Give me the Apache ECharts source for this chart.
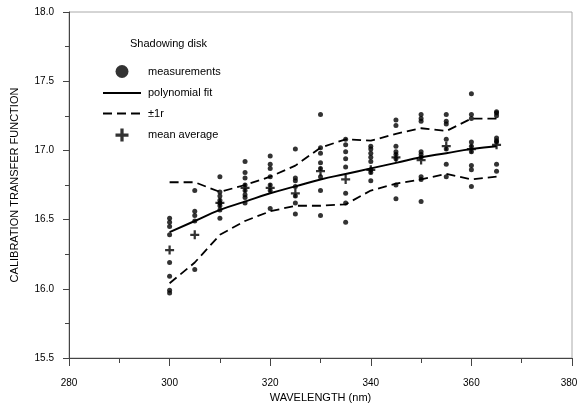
<!DOCTYPE html>
<html>
<head>
<meta charset="utf-8">
<script src="https://cdn.jsdelivr.net/npm/echarts@6/dist/echarts.min.js"></script>
<style>
  html, body { margin: 0; padding: 0; background: #fff; }
  #chart { width: 579px; height: 403px; }
</style>
</head>
<body>
<div id="chart"></div>
<script>
// Wavelengths (nm) at which the shadowing-disk calibration was measured
const wavelengths = [300, 305, 310, 315, 320, 325, 330, 335, 340, 345, 350, 355, 360, 365];

// Individual measurements, one list per wavelength
const measured = [
  [16.51, 16.48, 16.45, 16.39, 16.19, 16.09, 15.99, 15.97],
  [16.71, 16.56, 16.53, 16.49, 16.14],
  [16.81, 16.70, 16.67, 16.64, 16.62, 16.60, 16.57, 16.51],
  [16.92, 16.84, 16.80, 16.75, 16.71, 16.68, 16.66, 16.62],
  [16.96, 16.90, 16.87, 16.81, 16.75, 16.71, 16.58],
  [17.01, 16.80, 16.78, 16.74, 16.67, 16.62, 16.54],
  [17.26, 17.02, 16.98, 16.91, 16.87, 16.81, 16.71, 16.53],
  [17.08, 17.04, 16.99, 16.94, 16.88, 16.69, 16.62, 16.48],
  [17.03, 17.01, 16.98, 16.95, 16.92, 16.86, 16.84, 16.78],
  [17.22, 17.18, 17.03, 16.99, 16.97, 16.94, 16.75, 16.65],
  [17.26, 17.23, 17.21, 16.99, 16.97, 16.95, 16.81, 16.79, 16.63],
  [17.26, 17.21, 17.19, 17.08, 17.01, 16.90, 16.81],
  [17.41, 17.26, 17.23, 17.06, 17.03, 16.99, 16.89, 16.86, 16.74],
  [17.28, 17.27, 17.25, 17.09, 17.07, 17.06, 16.90, 16.85]
];

// Polynomial fit evaluated at each wavelength
const polyFit = [16.41, 16.49, 16.57, 16.63, 16.69, 16.74, 16.79, 16.83, 16.87, 16.91, 16.95, 16.98, 17.01, 17.03];

// Upper and lower one-sigma envelopes
const upperBand = [16.77, 16.77, 16.70, 16.75, 16.81, 16.89, 17.02, 17.08, 17.07, 17.12, 17.16, 17.14, 17.23, 17.23];
const lowerBand = [16.04, 16.19, 16.39, 16.49, 16.56, 16.60, 16.60, 16.61, 16.71, 16.76, 16.79, 16.83, 16.79, 16.81];

// Mean of the measurements at each wavelength
const meanValues = [16.28, 16.39, 16.62, 16.73, 16.73, 16.69, 16.85, 16.79, 16.86, 16.95, 16.93, 17.03, 17.01, 17.04];

// Axis tick labels
const xTicks = [280, 300, 320, 340, 360, 380];
const yTicks = [15.5, 16.0, 16.5, 17.0, 17.5, 18.0];

const pair = (vals) => wavelengths.map((w, i) => [w, vals[i]]);
const measuredPoints = [];
wavelengths.forEach((w, i) => measured[i].forEach(v => measuredPoints.push([w, v])));

const plusPath = 'path://M3,0h2v3h3v2h-3v3h-2v-3h-3v-2h3z';
const FONT = 'Liberation Sans, Arial, sans-serif';
const INK = '#000';
const DASH = [9, 5];
const xMax = xTicks[xTicks.length - 1];

const chart = echarts.init(document.getElementById('chart'), null, { renderer: 'canvas' });
chart.setOption({
  animation: false,
  backgroundColor: '#fff',
  textStyle: { fontFamily: FONT, color: INK },
  grid: {
    left: 69, right: 7, top: 12, bottom: 45,
    outerBoundsMode: 'none',
    containLabel: false,
    show: true, borderColor: '#aaa', borderWidth: 1
  },
  title: {
    text: 'Shadowing disk',
    left: 125, top: 33,
    textStyle: { fontFamily: FONT, fontSize: 11, fontWeight: 'normal', color: INK }
  },
  legend: {
    orient: 'vertical',
    left: 97, top: 60,
    itemWidth: 38, itemHeight: 13, itemGap: 9.5,
    textStyle: { fontFamily: FONT, fontSize: 11, color: INK, padding: [0, 0, 0, 2] },
    data: [
      { name: 'measurements', icon: 'circle' },
      { name: 'polynomial fit', itemStyle: { opacity: 0 } },
      { name: '±1r', itemStyle: { opacity: 0 } },
      { name: 'mean average', icon: plusPath }
    ]
  },
  xAxis: {
    type: 'value',
    min: xTicks[0], max: xMax, interval: 20,
    name: 'WAVELENGTH (nm)',
    nameLocation: 'middle', nameGap: 31,
    nameTextStyle: { fontFamily: FONT, fontSize: 11, color: INK },
    axisLine: { show: true, onZero: false, lineStyle: { color: '#444', width: 1 } },
    axisTick: { show: true, length: 8, lineStyle: { color: '#444' } },
    minorTick: { show: true, splitNumber: 2, length: 5, lineStyle: { color: '#444' } },
    splitLine: { show: false },
    axisLabel: {
      fontFamily: FONT, fontSize: 10, color: INK, margin: 20,
      formatter: v => (v === xMax ? '{edge|' + v + '}' : String(v)),
      rich: { edge: { fontFamily: FONT, fontSize: 10, color: INK, padding: [0, 6, 0, 0] } }
    }
  },
  yAxis: {
    type: 'value',
    min: yTicks[0], max: yTicks[yTicks.length - 1], interval: 0.5,
    name: 'CALIBRATION TRANSFER FUNCTION',
    nameLocation: 'middle', nameGap: 49, nameRotate: 90,
    nameTextStyle: { fontFamily: FONT, fontSize: 11, color: INK },
    axisLine: { show: true, onZero: false, lineStyle: { color: '#444', width: 1 } },
    axisTick: { show: true, length: 6, lineStyle: { color: '#444' } },
    minorTick: { show: true, splitNumber: 2, length: 4, lineStyle: { color: '#444' } },
    splitLine: { show: false },
    axisLabel: {
      fontFamily: FONT, fontSize: 10, color: INK, margin: 15,
      formatter: v => v.toFixed(1)
    }
  },
  series: [
    {
      name: 'measurements',
      type: 'scatter',
      data: measuredPoints,
      symbol: 'circle', symbolSize: 5,
      itemStyle: { color: INK },
      z: 3
    },
    {
      name: 'polynomial fit',
      type: 'line',
      data: pair(polyFit),
      smooth: true, showSymbol: false, symbol: 'none',
      lineStyle: { color: INK, width: 2 },
      itemStyle: { color: INK },
      z: 2
    },
    {
      name: '±1r',
      type: 'line',
      data: pair(upperBand),
      showSymbol: false, symbol: 'none',
      lineStyle: { color: INK, width: 1.8, type: DASH },
      itemStyle: { color: INK },
      z: 2
    },
    {
      name: '±1r',
      type: 'line',
      data: pair(lowerBand),
      showSymbol: false, symbol: 'none',
      lineStyle: { color: INK, width: 1.8, type: DASH },
      itemStyle: { color: INK },
      z: 2
    },
    {
      name: 'mean average',
      type: 'scatter',
      data: pair(meanValues),
      symbol: plusPath, symbolSize: 9,
      itemStyle: { color: INK },
      z: 4
    }
  ]
});
</script>
</body>
</html>
